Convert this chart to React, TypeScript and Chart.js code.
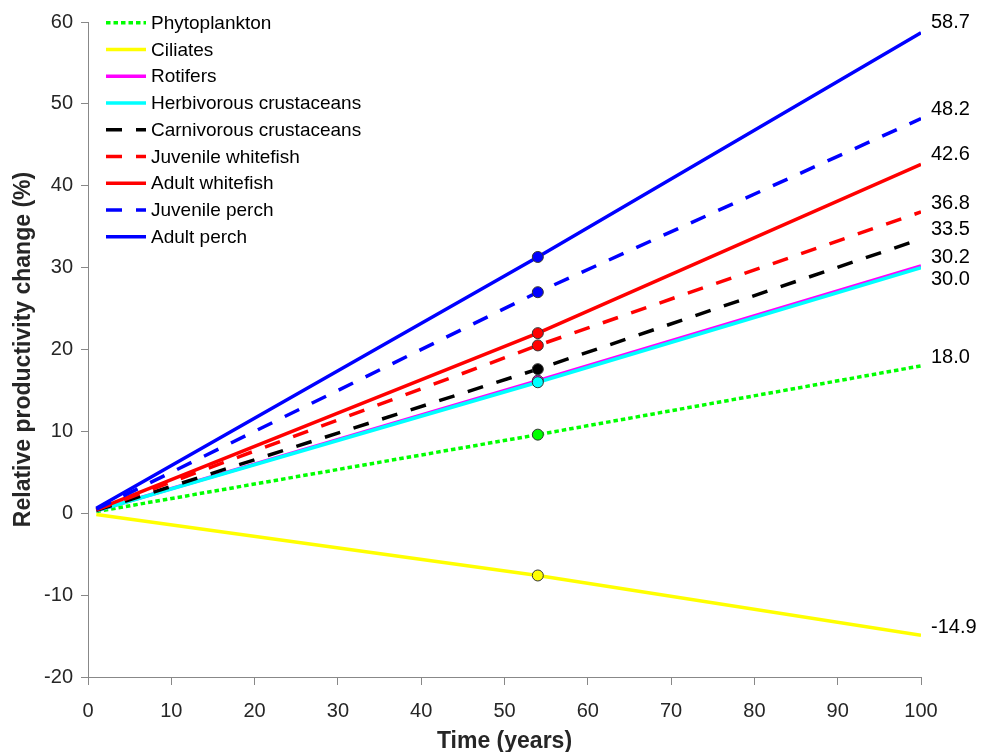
import React, { useEffect, useRef } from "react";
import { Chart, registerables } from "chart.js";

Chart.register(...registerables);

// ---- data ----
const seriesNames = [
  "Phytoplankton",
  "Ciliates",
  "Rotifers",
  "Herbivorous crustaceans",
  "Carnivorous crustaceans",
  "Juvenile whitefish",
  "Adult whitefish",
  "Juvenile perch",
  "Adult perch",
];
const timeStart = 1;
const timeEnd = 100;
const markerTime = 54;
const startValues = [0.2, -0.15, 0.3, 0.3, 0.35, 0.4, 0.45, 0.5, 0.6];
const markerValues = [9.6, -7.6, 16.2, 16.0, 17.6, 20.5, 22.0, 27.0, 31.3];
const endValues = [18.0, -14.9, 30.2, 30.0, 33.5, 36.8, 42.6, 48.2, 58.7];
const endLabels = ["18.0", "-14.9", "30.2", "30.0", "33.5", "36.8", "42.6", "48.2", "58.7"];

// ---- styles ----
const colors = ["#00ff00", "#ffff00", "#ff00ff", "#00ffff", "#000000", "#ff0000", "#ff0000", "#0000ff", "#0000ff"];
const DOT = [4.5, 3];
const DASH = [16, 14];
const dashes = [DOT, [], [], [], DASH, DASH, [], DASH, []];
const labelOffsets = [-8, -8, -9, 12, -9, -8, -10, -9, -10];
const FONT = "'Liberation Sans', Arial, Helvetica, sans-serif";
const TEXT = "#262626";

const overlayPlugin = {
  id: "overlay",
  afterDatasetsDraw(chart: any) {
    const ctx = chart.ctx;
    const xs = chart.scales.x;
    const ys = chart.scales.y;
    ctx.save();
    // end labels
    ctx.font = `20px ${FONT}`;
    ctx.fillStyle = "#000";
    ctx.textAlign = "left";
    ctx.textBaseline = "middle";
    endValues.forEach((v, i) => {
      ctx.fillText(endLabels[i], xs.getPixelForValue(timeEnd) + 10, ys.getPixelForValue(v) + labelOffsets[i]);
    });
    // legend
    const lx0 = 106, lx1 = 146, tx = 151, y0 = 22.7, dy = 26.75;
    seriesNames.forEach((name, i) => {
      const y = y0 + dy * i;
      ctx.save();
      ctx.strokeStyle = colors[i];
      ctx.lineWidth = 3.5;
      ctx.lineCap = "butt";
      ctx.setLineDash(dashes[i]);
      ctx.beginPath();
      ctx.moveTo(lx0, y);
      ctx.lineTo(lx1, y);
      ctx.stroke();
      ctx.restore();
      ctx.font = `19px ${FONT}`;
      ctx.fillStyle = "#000";
      ctx.textAlign = "left";
      ctx.textBaseline = "middle";
      ctx.fillText(name, tx, y + 1);
    });
    ctx.restore();
  },
};

export default function App() {
  const ref = useRef<HTMLCanvasElement | null>(null);
  useEffect(() => {
    if (!ref.current) return;
    const N = seriesNames.length;
    const lineSets = seriesNames.map((name, i) => ({
      type: "line" as const,
      label: name,
      data: [
        { x: timeStart, y: startValues[i] },
        { x: markerTime, y: markerValues[i] },
        { x: timeEnd, y: endValues[i] },
      ],
      borderColor: colors[i],
      backgroundColor: colors[i],
      borderWidth: 3.5,
      borderDash: dashes[i],
      borderCapStyle: "butt" as const,
      borderJoinStyle: "round" as const,
      pointRadius: 0,
      fill: false,
      tension: 0,
      order: N - i,
    }));
    const markerSet = {
      type: "scatter" as const,
      label: "markers",
      data: markerValues.map((v) => ({ x: markerTime, y: v })),
      pointRadius: 5.5,
      pointBackgroundColor: colors,
      pointBorderColor: "#333",
      pointBorderWidth: 1,
      showLine: false,
      order: -1,
    };
    const tickFont = { family: FONT, size: 20 };
    const chart = new Chart(ref.current, {
      type: "line",
      data: { datasets: [...lineSets, markerSet] as any },
      options: {
        animation: false,
        responsive: false,
        devicePixelRatio: 1,
        layout: { padding: { left: 0, right: 61, top: 22, bottom: 0 } },
        plugins: { legend: { display: false }, tooltip: { enabled: false } },
        scales: {
          x: {
            type: "linear",
            min: 0,
            max: 100,
            ticks: { stepSize: 10, font: tickFont, color: TEXT, padding: 14, maxRotation: 0 },
            grid: { drawOnChartArea: false, drawTicks: true, tickLength: 8, color: "#888", lineWidth: 1 },
            border: { display: true, color: "#888", width: 1 },
            title: {
              display: true,
              text: "Time (years)",
              font: { family: FONT, size: 23, weight: "bold", lineHeight: 20 / 23 },
              color: TEXT,
              padding: 0,
            },
            afterFit: (s: any) => {
              s.height = 75;
            },
          },
          y: {
            type: "linear",
            min: -20,
            max: 60,
            ticks: { stepSize: 10, font: tickFont, color: TEXT, padding: 8 },
            grid: { drawOnChartArea: false, drawTicks: true, tickLength: 7, color: "#888", lineWidth: 1 },
            border: { display: true, color: "#888", width: 1 },
            title: {
              display: true,
              text: "Relative productivity change (%)",
              font: { family: FONT, size: 23, weight: "bold", lineHeight: 1.2 },
              color: TEXT,
              padding: { top: 10, bottom: 0 },
            },
            afterFit: (s: any) => {
              s.width = 88;
            },
          },
        },
      } as any,
      plugins: [overlayPlugin],
    });
    return () => chart.destroy();
  }, []);
  return (
    <div style={{ position: "fixed", left: 0, top: 0, width: 982, height: 752, background: "#fff" }}>
      <canvas ref={ref} width={982} height={752} style={{ display: "block", width: 982, height: 752 }} />
    </div>
  );
}
